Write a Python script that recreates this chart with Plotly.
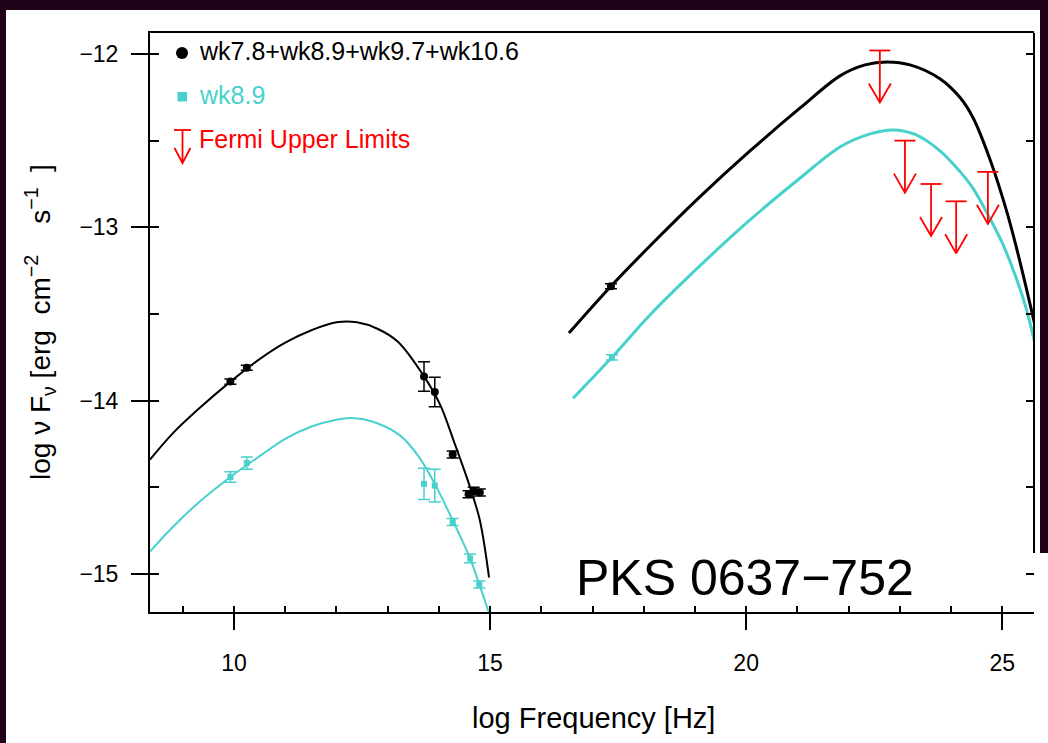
import plotly.graph_objects as go

# ---------------- data ----------------
# combined epochs wk7.8+wk8.9+wk9.7+wk10.6
comb_x = [9.93, 10.25, 13.71, 13.92, 14.27, 14.58, 14.68, 14.80, 17.36]
comb_y = [-13.89, -13.81, -13.86, -13.95, -14.31, -14.54, -14.52, -14.53, -13.34]
comb_err = [0.015, 0.015, 0.085, 0.085, 0.02, 0.02, 0.02, 0.02, 0.015]

# wk8.9
wk89_x = [9.93, 10.25, 13.71, 13.92, 14.27, 14.61, 14.79, 17.38]
wk89_y = [-14.44, -14.36, -14.48, -14.49, -14.70, -14.91, -15.06, -13.75]
wk89_err = [0.03, 0.035, 0.09, 0.095, 0.02, 0.025, 0.02, 0.015]

# Fermi upper limits
ul_x = [22.61, 23.10, 23.61, 24.10, 24.72]
ul_y = [-11.98, -12.50, -12.75, -12.85, -12.68]

# model curves (synchrotron + SSC)
comb_sync_x = [8.36, 8.8, 9.3, 9.93, 10.5, 11.0, 11.5, 12.0, 12.4, 12.8, 13.2, 13.71, 14.02, 14.3, 14.61, 14.80, 14.98]
comb_sync_y = [-14.34, -14.19, -14.05, -13.89, -13.76, -13.665, -13.595, -13.548, -13.548, -13.585, -13.66, -13.86, -14.02, -14.24, -14.50, -14.69, -15.02]

wk89_sync_x = [8.36, 8.8, 9.3, 9.93, 10.5, 11.0, 11.5, 12.0, 12.3, 12.7, 13.24, 13.6, 13.92, 14.27, 14.61, 14.79, 14.96, 15.05]
wk89_sync_y = [-14.87, -14.73, -14.59, -14.44, -14.32, -14.22, -14.15, -14.11, -14.10, -14.12, -14.20, -14.32, -14.48, -14.69, -14.91, -15.06, -15.21, -15.30]

comb_ssc_x = [16.54, 17.36, 18.13, 19.10, 20.08, 21.06, 21.84, 22.32, 22.75, 23.20, 23.79, 24.18, 24.43, 24.77, 25.10, 25.35, 25.63]
comb_ssc_y = [-13.61, -13.34, -13.105, -12.823, -12.558, -12.31, -12.125, -12.063, -12.046, -12.063, -12.144, -12.253, -12.368, -12.616, -12.921, -13.203, -13.554]

wk89_ssc_x = [16.62, 17.38, 18.13, 19.10, 20.08, 21.06, 21.84, 22.42, 22.87, 23.30, 23.79, 24.18, 24.43, 24.77, 25.00, 25.22, 25.45, 25.63]
wk89_ssc_y = [-13.986, -13.750, -13.503, -13.221, -12.956, -12.714, -12.535, -12.461, -12.438, -12.464, -12.56, -12.68, -12.775, -12.955, -13.09, -13.25, -13.45, -13.66]

x_ticks = [10, 15, 20, 25]
y_ticks = [-15, -14, -13, -12]
y_ticktext = ["\u221215", "\u221214", "\u221213", "\u221212"]
x_minor_ticks = list(range(9, 26))
y_half_ticks = [-15, -14.5, -14, -13.5, -13, -12.5, -12]

# ---------------- style ----------------
FONT = "Liberation Sans, Arial, Helvetica, sans-serif"
BLACK = "#000000"
CYAN = "#48d1cc"
RED = "#ff0000"
BORDER = "#1f0419"
W, H = 1048, 743
PL, PR, PT, PB = 150, 1034, 33, 612
XR = [8.36, 25.62]
YR = [-15.219, -11.879]

def px(xp):
    return (xp - PL) / (PR - PL)

def py(yp):
    return (PB - yp) / (PB - PT)

# upper-limit glyph geometry (in data units)
CAP = 0.205
SHAFT = 0.30
HEAD_W = 0.215
HEAD_H = 0.11

fig = go.Figure()

fig.add_trace(go.Scatter(x=comb_sync_x, y=comb_sync_y, mode="lines",
                         line=dict(color=BLACK, width=2, shape="spline", smoothing=1.0),
                         showlegend=False, hoverinfo="skip"))
fig.add_trace(go.Scatter(x=wk89_sync_x, y=wk89_sync_y, mode="lines",
                         line=dict(color=CYAN, width=2, shape="spline", smoothing=1.0),
                         showlegend=False, hoverinfo="skip"))
fig.add_trace(go.Scatter(x=comb_ssc_x, y=comb_ssc_y, mode="lines",
                         line=dict(color=BLACK, width=3, shape="spline", smoothing=1.0),
                         showlegend=False, hoverinfo="skip"))
fig.add_trace(go.Scatter(x=wk89_ssc_x, y=wk89_ssc_y, mode="lines",
                         line=dict(color=CYAN, width=3, shape="spline", smoothing=1.0),
                         showlegend=False, hoverinfo="skip"))

fig.add_trace(go.Scatter(x=comb_x, y=comb_y, mode="markers",
                         marker=dict(symbol="circle", size=8, color=BLACK),
                         error_y=dict(type="data", array=comb_err, color=BLACK, thickness=1.5, width=6),
                         showlegend=False))
fig.add_trace(go.Scatter(x=wk89_x, y=wk89_y, mode="markers",
                         marker=dict(symbol="square", size=6, color=CYAN),
                         error_y=dict(type="data", array=wk89_err, color=CYAN, thickness=1.5, width=6),
                         showlegend=False))

# upper limits as cap + shaft + open arrowhead
ux, uy = [], []
for x, y in zip(ul_x, ul_y):
    tip = y - SHAFT
    ux += [x - CAP, x + CAP, None, x, x, None, x - HEAD_W, x, x + HEAD_W, None]
    uy += [y, y, None, y, tip, None, tip + HEAD_H, tip, tip + HEAD_H, None]
fig.add_trace(go.Scatter(x=ux, y=uy, mode="lines", line=dict(color=RED, width=1.8),
                         showlegend=False, hoverinfo="skip"))

# dummy traces so the overlay tick axes are created
fig.add_trace(go.Scatter(x=[None], y=[None], xaxis="x2", yaxis="y", showlegend=False, hoverinfo="skip"))
fig.add_trace(go.Scatter(x=[None], y=[None], xaxis="x", yaxis="y2", showlegend=False, hoverinfo="skip"))
fig.add_trace(go.Scatter(x=[None], y=[None], xaxis="x", yaxis="y3", showlegend=False, hoverinfo="skip"))

axis_common = dict(showgrid=False, zeroline=False, tickcolor=BLACK, tickwidth=1.5)

fig.update_layout(
    width=W, height=H, autosize=False,
    margin=dict(l=PL, r=W - PR, t=PT, b=H - PB, pad=0),
    paper_bgcolor=BORDER, plot_bgcolor="white",
    font=dict(family=FONT, color=BLACK),
    xaxis=dict(range=XR, tickvals=x_ticks, ticks="outside", ticklen=16,
               showline=True, linecolor=BLACK, linewidth=2, mirror=True,
               tickfont=dict(size=23, family=FONT, color=BLACK), ticklabelstandoff=13,
               **axis_common),
    xaxis2=dict(overlaying="x", anchor="y", side="bottom", range=XR, tickvals=x_minor_ticks,
                ticks="inside", ticklen=6, showticklabels=False, showline=False, **axis_common),
    yaxis=dict(range=YR, tickvals=y_ticks, ticktext=y_ticktext, ticks="outside", ticklen=17,
               showline=True, linecolor=BLACK, linewidth=2, mirror=False,
               tickfont=dict(size=23, family=FONT, color=BLACK), ticklabelstandoff=8,
               **axis_common),
    yaxis2=dict(overlaying="y", anchor="x", side="left", range=YR, tickvals=y_half_ticks,
                ticks="inside", ticklen=9, showticklabels=False, showline=False, **axis_common),
    yaxis3=dict(overlaying="y", anchor="x", side="right", range=YR, tickvals=y_half_ticks,
                ticks="inside", ticklen=8, showticklabels=False, showline=False, **axis_common),
    showlegend=False,
)

shapes = [
    # white slide panel over the dark border
    dict(type="rect", xref="paper", yref="paper", layer="below",
         x0=px(6), x1=px(1040), y0=py(760), y1=py(10), fillcolor="white", line=dict(width=0)),
    dict(type="rect", xref="paper", yref="paper", layer="below",
         x0=px(1039), x1=px(1060), y0=py(760), y1=py(553), fillcolor="white", line=dict(width=0)),
    # right spine (partial)
    dict(type="line", xref="paper", yref="paper", x0=1, x1=1, y0=py(553), y1=1,
         line=dict(color=BLACK, width=2)),
    # legend glyphs
    dict(type="circle", xref="paper", yref="paper", x0=px(176), x1=px(188), y0=py(59), y1=py(47),
         fillcolor=BLACK, line=dict(width=0)),
    dict(type="rect", xref="paper", yref="paper", x0=px(177.5), x1=px(187), y0=py(101.5), y1=py(92),
         fillcolor=CYAN, line=dict(width=0)),
    dict(type="line", xref="paper", yref="paper", x0=px(174), x1=px(191), y0=py(130), y1=py(130),
         line=dict(color=RED, width=1.8)),
    dict(type="line", xref="paper", yref="paper", x0=px(182.5), x1=px(182.5), y0=py(130), y1=py(163),
         line=dict(color=RED, width=1.8)),
    dict(type="path", xref="paper", yref="paper",
         path="M %f,%f L %f,%f L %f,%f" % (px(174.5), py(148), px(182.5), py(163), px(190.5), py(148)),
         line=dict(color=RED, width=1.8)),
]
fig.update_layout(shapes=shapes)

annotations = [
    dict(text="wk7.8+wk8.9+wk9.7+wk10.6", x=px(197), y=py(51), xanchor="left", yanchor="middle",
         font=dict(size=25, color=BLACK, family=FONT)),
    dict(text="wk8.9", x=px(197), y=py(95), xanchor="left", yanchor="middle",
         font=dict(size=25, color=CYAN, family=FONT)),
    dict(text="Fermi Upper Limits", x=px(197), y=py(139), xanchor="left", yanchor="middle",
         font=dict(size=25, color=RED, family=FONT)),
    dict(text="PKS 0637\u2212752", x=px(574), y=py(578), xanchor="left", yanchor="middle",
         font=dict(size=50, color=BLACK, family=FONT)),
    dict(text="log Frequency [Hz]", x=px(593), y=py(718), xanchor="center", yanchor="middle",
         font=dict(size=29, color=BLACK, family=FONT)),
    dict(text="log \u03bd F<sub>\u03bd</sub> [erg\u00a0 cm<sup>\u22122</sup>\u00a0\u00a0\u00a0 s<sup>\u22121</sup>\u00a0\u00a0]",
         x=px(40), y=py(322), xanchor="center", yanchor="middle", textangle=-90,
         font=dict(size=28, color=BLACK, family=FONT)),
]
for a in annotations:
    a.update(xref="paper", yref="paper", showarrow=False)
fig.update_layout(annotations=annotations)

fig.write_html("out.html")
